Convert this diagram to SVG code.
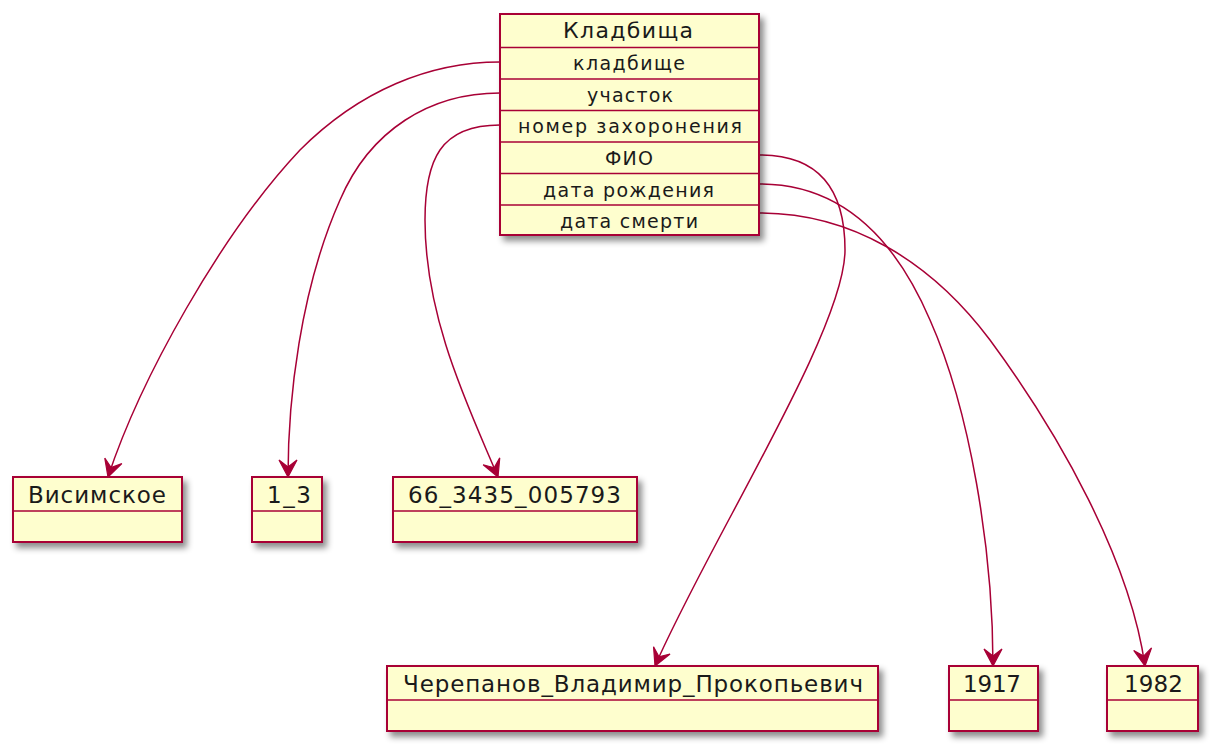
<svg xmlns="http://www.w3.org/2000/svg" width="1223" height="755" viewBox="0 0 1223 755">
<defs>
<filter id="sh" x="-10%" y="-10%" width="130%" height="140%">
<feDropShadow dx="4" dy="5" stdDeviation="3" flood-color="#000" flood-opacity="0.45"/>
</filter>
<marker id="ah" viewBox="-20 -11 22 22" refX="0" refY="0" markerWidth="22" markerHeight="22" markerUnits="userSpaceOnUse" orient="auto">
<path d="M0,0 L-17,-9 L-10,0 L-17,9 Z" fill="#A80036" stroke="#A80036" stroke-width="1.2" stroke-linejoin="miter"/>
</marker>
<style>
.box{fill:#FEFECE;stroke:#A80036;stroke-width:2;filter:url(#sh)}
.sep{stroke:#A80036;stroke-width:1.5}
.t{font-family:"DejaVu Sans","Noto Sans",sans-serif;fill:#1a1a1a;text-anchor:middle}
.h{font-size:22px}
.r{font-size:19px}
.l{font-size:23px}
.c{fill:none;stroke:#A80036;stroke-width:1.5;marker-end:url(#ah)}
</style>
</defs>
<g id="connectors">
<path class="c" d="M500,62 C430,62 360,90 300,150 C220,235 140,380 108,477"/>
<path class="c" d="M500,93 C430,93 370,130 340,200 C300,290 288,400 288,477"/>
<path class="c" d="M500,125 C440,125 425,160 425,220 C425,320 470,410 498,477"/>
<path class="c" d="M760,155 C820,155 845,190 845,250 C845,330 710,540 655,666"/>
<path class="c" d="M760,184 C850,184 900,250 930,320 C970,410 993,550 993,666"/>
<path class="c" d="M760,213 C850,213 930,260 990,340 C1060,435 1130,560 1145,666"/>
</g>
<g id="kladbischa">
<rect class="box" x="500" y="14" width="259" height="221"/>
<line class="sep" x1="500" y1="47.5" x2="759" y2="47.5"/>
<line class="sep" x1="500" y1="79" x2="759" y2="79"/>
<line class="sep" x1="500" y1="110.5" x2="759" y2="110.5"/>
<line class="sep" x1="500" y1="142" x2="759" y2="142"/>
<line class="sep" x1="500" y1="173.5" x2="759" y2="173.5"/>
<line class="sep" x1="500" y1="205" x2="759" y2="205"/>
<text class="t h" x="628" y="38" textLength="130" lengthAdjust="spacing">Кладбища</text>
<text class="t r" x="629" y="70" textLength="112" lengthAdjust="spacing">кладбище</text>
<text class="t r" x="630" y="101.5" textLength="86" lengthAdjust="spacing">участок</text>
<text class="t r" x="630" y="133" textLength="224" lengthAdjust="spacing">номер захоронения</text>
<text class="t r" x="629" y="164.5" textLength="48" lengthAdjust="spacing">ФИО</text>
<text class="t r" x="628.5" y="196.5" textLength="171" lengthAdjust="spacing">дата рождения</text>
<text class="t r" x="629" y="227.5" textLength="138" lengthAdjust="spacing">дата смерти</text>
</g>
<g id="visimskoe">
<rect class="box" x="13" y="477" width="169" height="65"/>
<line class="sep" x1="13" y1="511" x2="182" y2="511"/>
<text class="t l" x="97" y="502.5" textLength="138" lengthAdjust="spacing">Висимское</text>
</g>
<g id="n1_3">
<rect class="box" x="252" y="477" width="70" height="65"/>
<line class="sep" x1="252" y1="511" x2="322" y2="511"/>
<text class="t l" x="289" y="502.5" textLength="44" lengthAdjust="spacing">1_3</text>
</g>
<g id="n66">
<rect class="box" x="393" y="477" width="244" height="65"/>
<line class="sep" x1="393" y1="511" x2="637" y2="511"/>
<text class="t l" x="514.5" y="502.5" textLength="213" lengthAdjust="spacing">66_3435_005793</text>
</g>
<g id="cherepanov">
<rect class="box" x="387" y="666" width="491" height="65"/>
<line class="sep" x1="387" y1="700" x2="878" y2="700"/>
<text class="t l" x="633" y="691.5" textLength="460" lengthAdjust="spacing">Черепанов_Владимир_Прокопьевич</text>
</g>
<g id="n1917">
<rect class="box" x="949" y="666" width="89" height="65"/>
<line class="sep" x1="949" y1="700" x2="1038" y2="700"/>
<text class="t l" x="992" y="691.5" textLength="58" lengthAdjust="spacing">1917</text>
</g>
<g id="n1982">
<rect class="box" x="1107" y="666" width="91" height="65"/>
<line class="sep" x1="1107" y1="700" x2="1198" y2="700"/>
<text class="t l" x="1153.5" y="691.5" textLength="59" lengthAdjust="spacing">1982</text>
</g>
</svg>
